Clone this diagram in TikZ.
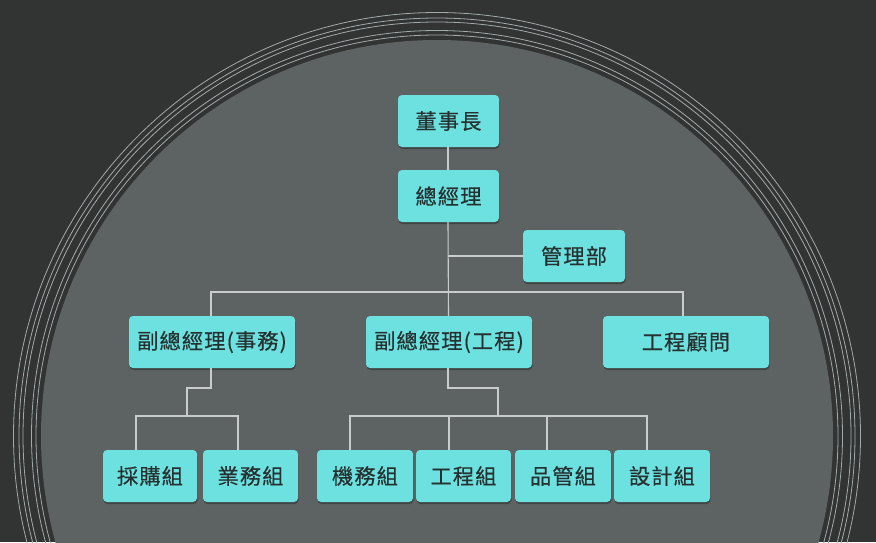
\documentclass[tikz,border=0pt]{standalone}
\usepackage{fontspec}
\newfontfamily\cjk[LetterSpace=5,FakeBold=0.3]{Noto Sans CJK TC}
\usetikzlibrary{shadows}
\definecolor{bgdark}{HTML}{323333}
\definecolor{disc}{HTML}{5C6362}
\definecolor{ring}{HTML}{A3AAAA}
\definecolor{boxfill}{HTML}{6DE1DF}
\definecolor{boxtext}{HTML}{263030}
\definecolor{conn}{HTML}{C9CCCC}
\tikzset{
  orgbox/.style={fill=boxfill, rounded corners=4pt, minimum height=52pt,
    inner sep=0pt, text=boxtext, font=\cjk\fontsize{21.3pt}{24pt}\selectfont,
    drop shadow={shadow xshift=0.5pt, shadow yshift=-2pt, opacity=0.3, fill=black}},
  link/.style={draw=conn, line width=1.1pt},
  ringline/.style={draw=ring, line width=0.8pt}
}
\begin{document}
\begin{tikzpicture}[x=1pt,y=-1pt]
\useasboundingbox (0,0) rectangle (876,542);
\fill[bgdark] (0,0) rectangle (876,542);
\begin{scope}
\clip (0,0) rectangle (876,542);
\fill[disc] (437,436) circle[radius=396];
\foreach \r in {401,405.5,414,418,423.5}{
  \draw[ringline] (437,436) circle[radius=\r];
}
\end{scope}

\node[orgbox, minimum width=101pt] (chair) at (448.5,121) {董事長};
\node[orgbox, minimum width=101pt] (gm) at (448.5,196) {總經理};
\node[orgbox, minimum width=102pt] (mgmt) at (574,256) {管理部};
\node[orgbox, minimum width=166pt] (vp1) at (212,342) {副總經理(事務)};
\node[orgbox, minimum width=166pt] (vp2) at (449,342) {副總經理(工程)};
\node[orgbox, minimum width=166pt] (adv) at (686,342) {工程顧問};
\node[orgbox, minimum width=94pt] (b1) at (150,476) {採購組};
\node[orgbox, minimum width=95pt] (b2) at (250.5,476) {業務組};
\node[orgbox, minimum width=96pt] (b3) at (365,476) {機務組};
\node[orgbox, minimum width=95pt] (b4) at (463.5,476) {工程組};
\node[orgbox, minimum width=96pt] (b5) at (563,476) {品管組};
\node[orgbox, minimum width=96pt] (b6) at (662,476) {設計組};

\coordinate (bus) at (448,292);
\coordinate (k1) at (187,388);
\coordinate (j1) at (187,416);
\coordinate (k2) at (498,388);
\coordinate (j2) at (498,416);

\draw[link] ([xshift=-0.5pt]chair.south) -- ([xshift=-0.5pt]gm.north);
\draw[link] ([xshift=-0.5pt]gm.south) -- ([xshift=-0.5pt]vp2.north);
\draw[link] ([xshift=-0.5pt]gm.south |- mgmt.west) -- (mgmt.west);
\draw[link] ([xshift=-1pt]vp1.north) |- (bus) -| ([xshift=-3pt]adv.north);
\draw[link] ([xshift=-1pt]vp1.south) |- (k1) -- (j1);
\draw[link] ([xshift=-14pt]b1.north) |- (j1) -| ([xshift=-12.5pt]b2.north);
\draw[link] ([xshift=-1pt]vp2.south) |- (k2) -- (j2);
\draw[link] ([xshift=-15pt]b3.north) |- (j2) -| ([xshift=-15pt]b6.north);
\draw[link] ([xshift=-14.5pt]b4.north) -- ([xshift=-14.5pt]b4.north |- j2);
\draw[link] ([xshift=-16pt]b5.north) -- ([xshift=-16pt]b5.north |- j2);
\end{tikzpicture}
\end{document}
